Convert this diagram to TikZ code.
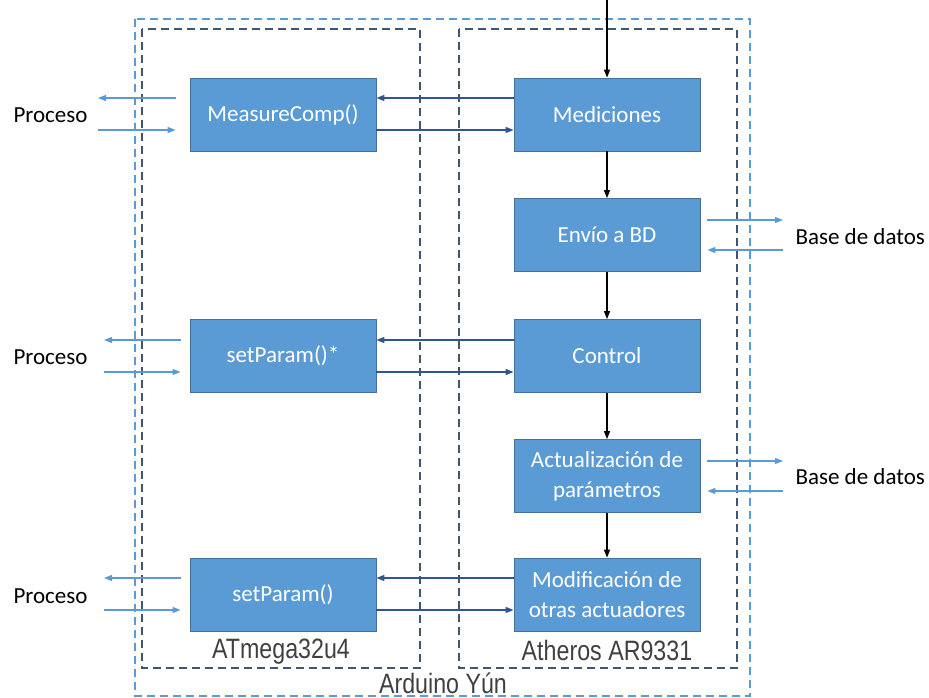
\documentclass[tikz,border=0pt]{standalone}
\usepackage{fontspec}
\setmainfont{Carlito}
\newfontfamily\narrowfont[FakeStretch=0.83]{Liberation Sans}
\usetikzlibrary{arrows.meta}
\definecolor{boxfill}{HTML}{5B9BD5}
\definecolor{boxline}{HTML}{41719C}
\definecolor{darkarrow}{HTML}{2F5597}
\definecolor{lightarrow}{HTML}{5B9BD5}
\definecolor{frameline}{HTML}{44546A}
\definecolor{labelgray}{HTML}{404040}
\tikzset{
  block/.style={rectangle, fill=boxfill, draw=boxline, line width=0.8pt,
    minimum width=186pt, minimum height=73pt, inner sep=0pt,
    text=white, align=center, font=\fontsize{23}{30}\selectfont},
  outside/.style={font=\fontsize{23}{28}\selectfont, text=black},
  unitlabel/.style={font=\narrowfont\fontsize{28}{32}\selectfont, text=labelgray, inner sep=0pt},
  tip/.style={-{Triangle[length=8pt,width=6pt]}},
  flow/.style={tip, draw=black, line width=1.2pt},
  link/.style={tip, draw=darkarrow, line width=1.3pt},
  io/.style={tip, draw=lightarrow, line width=1.3pt},
  board/.style={draw=lightarrow, line width=2pt, dash pattern=on 8pt off 5pt},
  chip/.style={draw=frameline, line width=2pt, dash pattern=on 8pt off 5pt},
}
\begin{document}
\begin{tikzpicture}[x=1pt, y=-1pt]
\useasboundingbox (0,0) rectangle (929,698);

% board and the two processors
\draw[board] (135,19) rectangle (750,696);
\draw[chip] (142,29) rectangle (420,668);
\draw[chip] (459,29) rectangle (737,668);

% function blocks
\node[block] (mc) at (283,114.5) {MeasureComp()};
\node[block] (med) at (607,114.5) {Mediciones};
\node[block] (env) at (607,235) {Envío a BD};
\node[block] (spa) at (283,356) {setParam()*};
\node[block] (ctl) at (607,356) {Control};
\node[block] (act) at (607,476) {Actualización de\\parámetros};
\node[block] (spb) at (283,594.5) {setParam()};
\node[block] (mod) at (607,594.5) {Modificación de\\otras actuadores};

% labels
\node[unitlabel] (lat) at (281,652) {ATmega32u4};
\node[unitlabel] (lar) at (607,650) {Atheros AR9331};
\node[unitlabel] (lyun) at (443,683) {Arduino Yún};

\node[outside, anchor=west] (p1) at (10,115) {Proceso};
\node[outside, anchor=west] (p2) at (10,357) {Proceso};
\node[outside, anchor=west] (p3) at (10,596) {Proceso};
\node[outside, anchor=west] (b1) at (792,237) {Base de datos};
\node[outside, anchor=west] (b2) at (792,477) {Base de datos};

% main sequence
\coordinate (in) at (607,0);
\draw[flow] (in) -- (med.north);
\draw[flow] (med) -- (env);
\draw[flow] (env) -- (ctl);
\draw[flow] (ctl) -- (act);
\draw[flow] (act) -- (mod);

% links between the processors
\draw[link] ([yshift=16.5pt]med.west) -- ([yshift=16.5pt]mc.east);
\draw[link] ([yshift=-15.5pt]mc.east) -- ([yshift=-15.5pt]med.west);
\draw[link] ([yshift=16pt]ctl.west) -- ([yshift=16pt]spa.east);
\draw[link] ([yshift=-16pt]spa.east) -- ([yshift=-16pt]ctl.west);
\draw[link] ([yshift=16.5pt]mod.west) -- ([yshift=16.5pt]spb.east);
\draw[link] ([yshift=-15.5pt]spb.east) -- ([yshift=-15.5pt]mod.west);

% process side
\coordinate (p1o) at (98,98);  \coordinate (p1i) at (98,130);
\coordinate (p2o) at (104,340); \coordinate (p2i) at (104,372);
\coordinate (p3o) at (104,578); \coordinate (p3i) at (104,610);
\draw[io] ([xshift=-14pt]mc.west |- p1o) -- (p1o);
\draw[io] (p1i) -- ([xshift=-14pt]mc.west |- p1i);
\draw[io] ([xshift=-9pt]spa.west |- p2o) -- (p2o);
\draw[io] (p2i) -- ([xshift=-9pt]spa.west |- p2i);
\draw[io] ([xshift=-9pt]spb.west |- p3o) -- (p3o);
\draw[io] (p3i) -- ([xshift=-9pt]spb.west |- p3i);

% database side
\coordinate (b1o) at (783,220); \coordinate (b1i) at (783,250);
\coordinate (b2o) at (783,461); \coordinate (b2i) at (783,491);
\draw[io] ([xshift=7pt]env.east |- b1o) -- (b1o);
\draw[io] (b1i) -- ([xshift=7pt]env.east |- b1i);
\draw[io] ([xshift=7pt]act.east |- b2o) -- (b2o);
\draw[io] (b2i) -- ([xshift=7pt]act.east |- b2i);
\end{tikzpicture}
\end{document}
